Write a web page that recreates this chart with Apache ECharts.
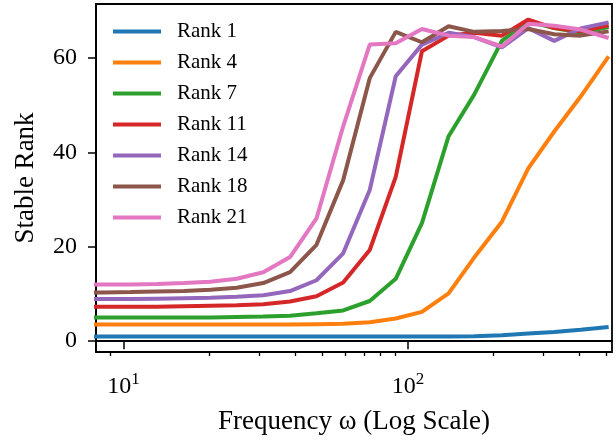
<!DOCTYPE html>
<html>
<head>
<meta charset="utf-8">
<script src="https://cdn.jsdelivr.net/npm/echarts@6/dist/echarts.min.js"></script>
<style>
  html, body { margin: 0; padding: 0; background: #fff; }
  #chart { width: 616px; height: 441px; }
</style>
</head>
<body>
<div id="chart"></div>
<script>
  // frequencies (log spaced)
  var freq = [6.9, 8.5, 10.6, 13.1, 16.3, 20.2, 25.0, 31.0, 38.5, 47.7, 59.2, 73.4, 90.6, 112, 139, 171, 214, 265, 327, 405, 508]

  var rank1 = [1.0, 1.0, 1.0, 1.0, 1.0, 1.0, 1.0, 1.0, 1.0, 1.0, 1.0, 1.0, 1.0, 1.0, 1.0, 1.05, 1.25, 1.6, 1.95, 2.4, 3.0]
  var rank4 = [3.5, 3.5, 3.5, 3.5, 3.5, 3.5, 3.5, 3.5, 3.5, 3.6, 3.7, 4.0, 4.8, 6.2, 10.1, 17.7, 25.3, 36.6, 44.4, 51.8, 60.3]
  var rank7 = [5.0, 5.0, 5.0, 5.0, 5.0, 5.0, 5.1, 5.2, 5.4, 5.9, 6.5, 8.5, 13.2, 25.0, 43.4, 52.2, 63.6, 67.7, 66.3, 65.3, 66.5]
  var rank11 = [7.3, 7.3, 7.3, 7.3, 7.4, 7.5, 7.6, 7.8, 8.4, 9.5, 12.4, 19.3, 34.8, 61.4, 64.7, 65.3, 64.7, 68.1, 66.3, 65.6, 66.9]
  var rank14 = [8.9, 8.9, 8.9, 9.0, 9.1, 9.2, 9.4, 9.7, 10.6, 12.9, 18.6, 32.0, 56.1, 62.8, 65.3, 64.4, 62.2, 66.3, 63.6, 66.2, 67.5]
  var rank18 = [10.3, 10.3, 10.4, 10.5, 10.6, 10.9, 11.3, 12.3, 14.6, 20.4, 34.1, 55.7, 65.5, 63.3, 66.7, 65.5, 65.7, 66.1, 65.0, 64.7, 65.6]
  var rank21 = [12.0, 12.0, 12.0, 12.1, 12.3, 12.6, 13.2, 14.6, 17.8, 26.0, 45.5, 62.8, 63.1, 66.1, 64.7, 64.4, 62.4, 67.2, 66.8, 66.0, 64.2]

  var seriesNames = ['Rank 1', 'Rank 4', 'Rank 7', 'Rank 11', 'Rank 14', 'Rank 18', 'Rank 21']
  var seriesValues = [rank1, rank4, rank7, rank11, rank14, rank18, rank21]
  var colors = ['#1f77b4', '#ff7f0e', '#2ca02c', '#d62728', '#9467bd', '#8c564b', '#e377c2']

  var xMajorTicks = [10, 100]
  var xMinorTicks = [9, 20, 30, 40, 50, 60, 70, 80, 90, 200, 300, 400, 500]
  var yTicks = [0, 20, 40, 60]

  var serif = 'Liberation Serif, Times New Roman, serif'

  function pairs(ys) {
    return ys.map(function (y, i) { return [freq[i], y] })
  }

  var chart = echarts.init(document.getElementById('chart'), null, { renderer: 'canvas' })

  var option = {
    animation: false,
    color: colors,
    grid: {
      left: 96,
      top: 4,
      right: 4,
      bottom: 89,
      show: true,
      borderColor: '#000',
      borderWidth: 1.8
    },
    legend: {
      orient: 'vertical',
      left: 113,
      top: 21,
      padding: 0,
      icon: 'rect',
      itemWidth: 48,
      itemHeight: 4,
      itemGap: 10,
      textStyle: {
        fontFamily: serif,
        fontSize: 21,
        lineHeight: 21,
        color: '#000',
        padding: [0, 0, 0, 11]
      },
      data: seriesNames
    },
    xAxis: [
      {
        type: 'log',
        logBase: 10,
        min: 8,
        max: 522,
        name: 'Frequency ω (Log Scale)',
        nameLocation: 'middle',
        nameGap: 56,
        nameTextStyle: { fontFamily: serif, fontSize: 27, color: '#000' },
        axisLine: { lineStyle: { color: '#000', width: 1.8 } },
        axisTick: { customValues: xMajorTicks, length: 8, lineStyle: { color: '#000', width: 1.5 } },
        axisLabel: {
          customValues: xMajorTicks,
          margin: 19,
          formatter: function (v) {
            return '{b|10}{s|' + Math.round(Math.log10(v)) + '}'
          },
          rich: {
            b: { fontFamily: serif, fontSize: 24, color: '#000', lineHeight: 28, verticalAlign: 'bottom' },
            s: { fontFamily: serif, fontSize: 17, color: '#000', lineHeight: 28, verticalAlign: 'top', padding: [0, 0, 8, 0] }
          }
        },
        splitLine: { show: false },
        minorSplitLine: { show: false }
      },
      {
        type: 'log',
        logBase: 10,
        min: 8,
        max: 522,
        position: 'bottom',
        axisLine: { show: false },
        axisTick: { customValues: xMinorTicks, length: 4, lineStyle: { color: '#000', width: 1.3 } },
        axisLabel: { show: false },
        splitLine: { show: false }
      }
    ],
    yAxis: {
      type: 'value',
      min: -2.3,
      max: 71.4,
      name: 'Stable Rank',
      nameLocation: 'middle',
      nameGap: 57,
      nameTextStyle: { fontFamily: serif, fontSize: 27, color: '#000' },
      axisLine: { show: true, lineStyle: { color: '#000', width: 1.8 } },
      axisTick: { customValues: yTicks, length: 8, lineStyle: { color: '#000', width: 1.5 } },
      axisLabel: { customValues: yTicks, margin: 19, fontFamily: serif, fontSize: 24, color: '#000' },
      splitLine: { show: false }
    },
    series: seriesNames.map(function (name, i) {
      return {
        name: name,
        type: 'line',
        xAxisIndex: 0,
        data: pairs(seriesValues[i]),
        symbol: 'none',
        lineStyle: { width: 4, color: colors[i] },
        itemStyle: { color: colors[i] },
        clip: true
      }
    })
  }

  chart.setOption(option)
</script>
</body>
</html>
